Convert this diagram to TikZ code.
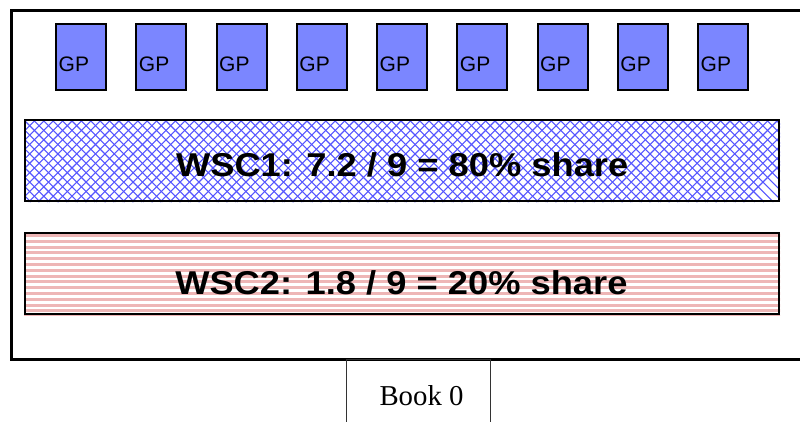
\documentclass[tikz,border=0pt]{standalone}
\usepackage{fontspec}
\usetikzlibrary{calc}
\setmainfont{Liberation Serif}
\newfontfamily\arialfont{Liberation Sans}
\definecolor{gpblue}{RGB}{123,134,255}
\definecolor{hatchblue}{RGB}{85,85,255}
\definecolor{stripepink}{RGB}{238,182,182}
\tikzset{
  gpbox/.style={draw=black, line width=2pt, fill=gpblue, minimum width=50, minimum height=66, inner sep=0pt},
  gptext/.style={font=\arialfont\fontsize{21}{24}\selectfont, inner sep=0pt, anchor=base west},
  barbox/.style={draw=black, line width=2pt, minimum width=754, minimum height=81, inner sep=0pt},
  bartext/.style={font=\arialfont\bfseries\fontsize{33}{36}\selectfont, inner sep=0pt, anchor=base},
  outerbox/.style={draw=black, line width=3pt},
  bookbox/.style={draw=black!80, line width=1pt},
}
\begin{document}
\begin{tikzpicture}[x=1pt,y=-1pt]
\useasboundingbox (0,0) rectangle (800,422);
\clip (0,0) rectangle (800,422);
% outer frame
\coordinate (otl) at (11,10.5);
\coordinate (obr) at (812,359.5);
\draw[outerbox] (otl) rectangle (obr);
% Book box
\coordinate (btl) at (346,359.5);
\coordinate (bbr) at (490.5,430);
\draw[bookbox] (btl) rectangle (bbr);
\node[font=\fontsize{28.8}{31}\selectfont, inner sep=0pt, anchor=base] (book) at (421.5,405) {Book 0};
% GP boxes
\foreach \i in {0,...,8} {
  \node[gpbox] (gp\i) at ({81+\i*80.25},57.2) {};
  \node[gptext] (gpt\i) at ($(gp\i.west)+(3.5,14.5)$) {GP};
}
% WSC1 bar with crosshatch
\node[barbox] (wsc1) at (402,161) {};
\begin{scope}
  \clip (wsc1.south west) rectangle (wsc1.north east);
  \foreach \k in {-12,...,85} {
    \draw[hatchblue, line width=1.1pt] ({25+\k*9.4},121) -- ({25+\k*9.4+81},202);
    \draw[hatchblue, line width=1.1pt] ({25+\k*9.4},121) -- ({25+\k*9.4-81},202);
  }
\end{scope}
\node[barbox] at (wsc1) {};
\node[bartext] (t1) at (402.2,177) {\scalebox{1.1}[1]{WSC1: 7.2 / 9 = 80\% share}};
% WSC2 bar with stripes
\node[barbox] (wsc2) at (402,273.5) {};
\begin{scope}
  \clip (wsc2.south west) rectangle (wsc2.north east);
  \foreach \k in {0,...,14} {
    \draw[stripepink, line width=3pt] (20,{235.5+\k*5.8}) -- (785,{235.5+\k*5.8});
  }
\end{scope}
\node[barbox] at (wsc2) {};
\node[bartext] (t2) at (401.4,294) {\scalebox{1.1}[1]{WSC2: 1.8 / 9 = 20\% share}};
\end{tikzpicture}
\end{document}
